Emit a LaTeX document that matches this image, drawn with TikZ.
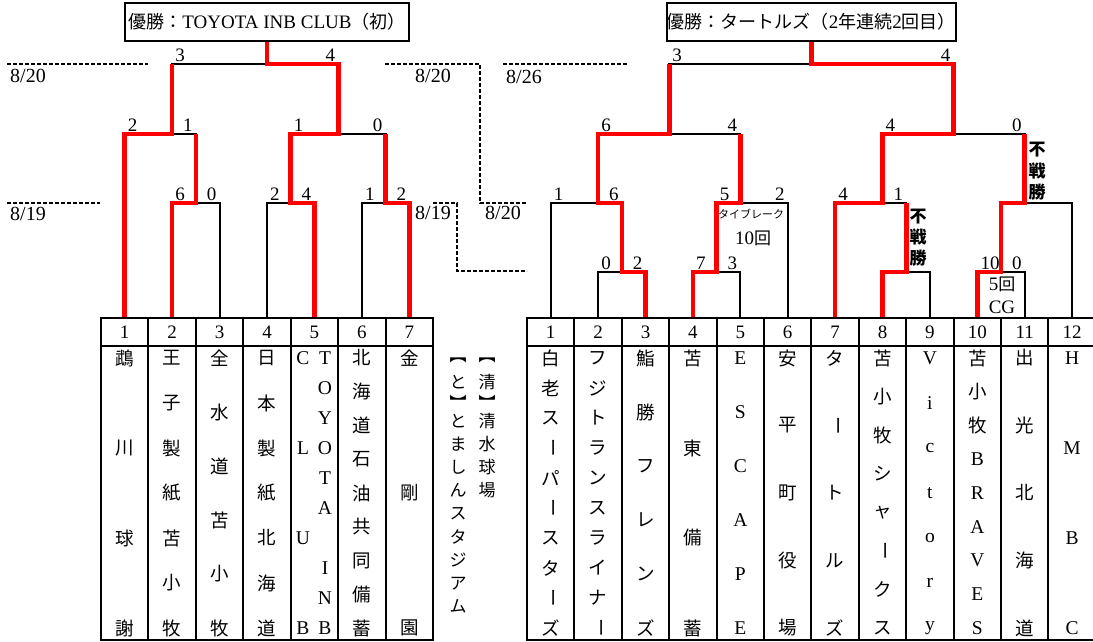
\documentclass[tikz,border=0pt]{standalone}
\usepackage{fontspec}
\setmainfont{Liberation Serif}
\newfontfamily\jp{Noto Sans CJK JP}
\usepackage{xcolor}
\definecolor{winred}{HTML}{FF0000}
\usetikzlibrary{positioning}
\newcommand{\fsz}[1]{\fontsize{#1}{#1}\selectfont}
\newcommand{\vbar}{\rotatebox[origin=c]{-90}{ー}}
% vertical team name: id, style, x, first y, step, characters
\newcommand{\vcol}[6]{%
  \foreach \ch [count=\i from 0] in {#6}
    \node[#2] (#1-\i) at (#3, {#4+\i*#5}) {\ch};}

\begin{document}
\begin{tikzpicture}[x=1pt, y=-1pt,
    bline/.style={line width=2pt, black},
    rline/.style={line width=4.6pt, winred},
    tline/.style={line width=2pt, black},
    dline/.style={line width=1.5pt, dash pattern=on 4pt off 2pt},
    titlebox/.style={draw, line width=2.4pt, minimum width=284pt, minimum height=38pt, inner sep=0pt, font=\fsz{19}},
    scoreL/.style={anchor=south west, inner sep=0pt, xshift=3pt, yshift=2.5pt, font=\fsz{19}},
    scoreR/.style={anchor=south east, inner sep=0pt, xshift=-3pt, yshift=2.5pt, font=\fsz{19}},
    datelbl/.style={inner sep=0pt, font=\fsz{20}},
    numcell/.style={inner sep=0pt, font=\fsz{19}},
    namechar/.style={inner sep=0pt, font=\jp\fsz{18.5}},
    latchar/.style={inner sep=0pt, font=\fsz{19.5}},
    byechar/.style={inner sep=0pt, font=\jp\bfseries\fsz{17}},
    notelbl/.style={inner sep=0pt, align=center}]
  \useasboundingbox (0,0) rectangle (1093,642);

  % --- Titles ---
  \node[titlebox] (titleL) at (267,22) {{\jp\fsz{18}優勝：}TOYOTA INB CLUB{\jp\fsz{18}（初）}};
  \node[titlebox, minimum width=285pt] (titleR) at (811.4,22) {{\jp\fsz{18}優勝：タートルズ（}2{\jp\fsz{18}年連続}2{\jp\fsz{18}回目）}};

  % --- Team positions ---
  \foreach \n in {1,...,7}
    \coordinate (tL\n) at ({101+47.43*(\n-0.5)},318);
  \foreach \n in {1,...,12}
    \coordinate (tR\n) at ({527+47.4*(\n-0.5)},318);

  % --- Dates ---
  \draw[dline] (7,64) -- (148,64);
  \draw[dline] (7,203) -- (100,203);
  \draw[dline] (385,64) -- (480,64) -- (480,203) -- (527,203);
  \draw[dline] (433,203) -- (457,203) -- (457,271) -- (527,271);
  \draw[dline] (503,64) -- (628,64);
  \node[datelbl] (d1) at (28,76) {8/20};
  \node[datelbl] (d2) at (28,214) {8/19};
  \node[datelbl] (d3) at (433,76) {8/20};
  \node[datelbl] (d4) at (433,213) {8/19};
  \node[datelbl] (d5) at (503,213) {8/20};
  \node[datelbl] (d6) at (524,77) {8/26};

  % --- Left bracket ---
  \coordinate (jL23) at (195.9,203);
  \coordinate (jL45) at (290.7,203);
  \coordinate (jL67) at (385.6,203);
  \coordinate (jL1x) at (172.1,134);
  \coordinate (jL4x) at (338.2,134);
  \coordinate (jLf) at (267,64);

  \draw[bline] (tL2) |- (jL23) -| (tL3);
  \draw[bline] (tL4) |- (jL45) -| (tL5);
  \draw[bline] (tL6) |- (jL67) -| (tL7);
  \draw[bline] (tL1) |- (jL1x) -| (jL23);
  \draw[bline] (jL45) |- (jL4x) -| (jL67);
  \draw[bline] (jL1x) |- (jLf) -| (jL4x);
  \draw[bline] (jLf) -- (titleL.south);

  \draw[rline] (tL1) |- (jL1x) -- (jL1x |- jLf);
  \draw[rline] (tL2) |- (jL23) -- (jL23 |- jL1x);
  \draw[rline] (tL5) |- (jL45) |- (jL4x) |- (jLf) -- (titleL.south);
  \draw[rline] (tL7) |- (jL67) -- (jL67 |- jL4x);

  \node[scoreL] (sL1) at (jL1x |- jLf) {3};
  \node[scoreR] (sL2) at (jL4x |- jLf) {4};
  \node[scoreL] (sL3) at (tL1 |- jL1x) {2};
  \node[scoreR] (sL4) at (jL23 |- jL1x) {1};
  \node[scoreL] (sL5) at (jL45 |- jL4x) {1};
  \node[scoreR] (sL6) at (jL67 |- jL4x) {0};
  \node[scoreL] (sL7) at (tL2 |- jL23) {6};
  \node[scoreR] (sL8) at (tL3 |- jL23) {0};
  \node[scoreL] (sL9) at (tL4 |- jL45) {2};
  \node[scoreR] (sL10) at (tL5 |- jL45) {4};
  \node[scoreL] (sL11) at (tL6 |- jL67) {1};
  \node[scoreR] (sL12) at (tL7 |- jL67) {2};

  % --- Right bracket ---
  \coordinate (jR23) at (621.8,272);
  \coordinate (jR45) at (716.6,272);
  \coordinate (jR89) at (906.2,272);
  \coordinate (jR1011) at (1001,272);
  \coordinate (jR1x) at (598.1,203);
  \coordinate (jR6x) at (740.3,203);
  \coordinate (jR7x) at (882.5,203);
  \coordinate (jR12x) at (1024.7,203);
  \coordinate (jRs1) at (669.2,134);
  \coordinate (jRs2) at (953.6,134);
  \coordinate (jRf) at (811.4,64);

  \draw[bline] (tR2) |- (jR23) -| (tR3);
  \draw[bline] (tR4) |- (jR45) -| (tR5);
  \draw[bline] (tR8) |- (jR89) -| (tR9);
  \draw[bline] (tR10) |- (jR1011) -| (tR11);
  \draw[bline] (tR1) |- (jR1x) -| (jR23);
  \draw[bline] (jR45) |- (jR6x) -| (tR6);
  \draw[bline] (tR7) |- (jR7x) -| (jR89);
  \draw[bline] (jR1011) |- (jR12x) -| (tR12);
  \draw[bline] (jR1x) |- (jRs1) -| (jR6x);
  \draw[bline] (jR7x) |- (jRs2) -| (jR12x);
  \draw[bline] (jRs1) |- (jRf) -| (jRs2);
  \draw[bline] (jRf) -- (titleR.south);

  \draw[rline] (tR3) |- (jR23) |- (jR1x) |- (jRs1) -- (jRs1 |- jRf);
  \draw[rline] (tR4) |- (jR45) |- (jR6x) -- (jR6x |- jRs1);
  \draw[rline] (tR7) |- (jR7x) |- (jRs2) |- (jRf) -- (titleR.south);
  \draw[rline] (tR8) |- (jR89) -- (jR89 |- jR7x);
  \draw[rline] (tR10) |- (jR1011) |- (jR12x) -- (jR12x |- jRs2);

  \node[scoreL] (sR1) at (jRs1 |- jRf) {3};
  \node[scoreR] (sR2) at (jRs2 |- jRf) {4};
  \node[scoreL] (sR3) at (jR1x |- jRs1) {6};
  \node[scoreR] (sR4) at (jR6x |- jRs1) {4};
  \node[scoreL] (sR5) at (jR7x |- jRs2) {4};
  \node[scoreR] (sR6) at (jR12x |- jRs2) {0};
  \node[scoreL] (sR7) at (tR1 |- jR1x) {1};
  \node[scoreR] (sR8) at (jR23 |- jR1x) {6};
  \node[scoreL] (sR9) at (jR45 |- jR6x) {5};
  \node[scoreR] (sR10) at (tR6 |- jR6x) {2};
  \node[scoreL] (sR11) at (tR7 |- jR7x) {4};
  \node[scoreR] (sR12) at (jR89 |- jR7x) {1};
  \node[scoreL] (sR13) at (tR2 |- jR23) {0};
  \node[scoreR] (sR14) at (tR3 |- jR23) {2};
  \node[scoreL] (sR15) at (tR4 |- jR45) {7};
  \node[scoreR] (sR16) at (tR5 |- jR45) {3};
  \node[scoreL] (sR17) at (tR10 |- jR1011) {10};
  \node[scoreR] (sR18) at (tR11 |- jR1011) {0};

  % notes
  \node[notelbl, font=\jp\fsz{11}] (tb) at (751,214) {タイブレーク};
  \node[notelbl, font=\fsz{19}] (tb10) at (753,238) {10{\jp\fsz{17}回}};
  \node[notelbl, font=\fsz{19}] (cg5) at (1002,284) {5{\jp\fsz{17}回}};
  \node[notelbl, font=\fsz{19}] (cg) at (1002,307) {CG};
  \vcol{bye1}{byechar}{918}{217}{20.5}{不,戦,勝}
  \vcol{bye2}{byechar}{1037}{150}{21}{不,戦,勝}

  % --- Tables ---
  \draw[tline] (101,318) rectangle (433,640);
  \draw[tline] (101,346) -- (433,346);
  \foreach \n in {1,...,6}
    \draw[tline] ({101+47.43*\n},318) -- ({101+47.43*\n},640);
  \foreach \n in {1,...,7}
    \node[numcell] (nL\n) at (tL\n |- 0,332) {\n};

  \draw[tline] (527,318) rectangle (1096,640);
  \draw[tline] (527,346) -- (1096,346);
  \foreach \n in {1,...,11}
    \draw[tline] ({527+47.4*\n},318) -- ({527+47.4*\n},640);
  \foreach \n in {1,...,12}
    \node[numcell] (nR\n) at (tR\n |- 0,332) {\n};

  % --- Team names (left) ---
  \vcol{L1}{namechar}{124.7}{358}{90}{鵡,川,球,謝}
  \vcol{L2}{namechar}{172.1}{358}{45}{王,子,製,紙,苫,小,牧}
  \vcol{L3}{namechar}{219.6}{358}{54}{全,水,道,苫,小,牧}
  \vcol{L4}{namechar}{267.0}{358}{45}{日,本,製,紙,北,海,道}
  \vcol{L5a}{latchar}{325}{358}{30}{T,O,Y,O,T,A}
  \vcol{L5b}{latchar}{325}{568}{30}{I,N,B}
  \vcol{L5c}{latchar}{303}{358}{90}{C,L,U,B}
  \vcol{L6}{namechar}{361.9}{358}{33.75}{北,海,道,石,油,共,同,備,蓄}
  \vcol{L7}{namechar}{409.3}{358}{135}{金,剛,園}

  % --- Team names (right) ---
  \vcol{R1}{namechar}{550.7}{358}{30}{白,老,ス,\vbar,パ,\vbar,ス,タ,\vbar,ズ}
  \vcol{R2}{namechar}{598.1}{358}{30}{フ,ジ,ト,ラ,ン,ス,ラ,イ,ナ,\vbar}
  \vcol{R3}{namechar}{645.5}{358}{54}{鮨,勝,フ,レ,ン,ズ}
  \vcol{R4}{namechar}{692.9}{358}{90}{苫,東,備,蓄}
  \vcol{R5}{latchar}{740.3}{358}{54}{E,S,C,A,P,E}
  \vcol{R6}{namechar}{787.7}{358}{67.5}{安,平,町,役,場}
  \vcol{R7}{namechar}{835.1}{358}{67.5}{タ,\vbar,ト,ル,ズ}
  \vcol{R8}{namechar}{882.5}{358}{38.57}{苫,小,牧,シ,ャ,\vbar,ク,ス}
  \vcol{R9}{latchar}{929.9}{358}{45}{V,i,c,t,o,r,y}
  \vcol{R10a}{namechar}{977.3}{358}{33.75}{苫,小,牧}
  \vcol{R10b}{latchar}{977.3}{459.25}{33.75}{B,R,A,V,E,S}
  \vcol{R11}{namechar}{1024.7}{358}{67.5}{出,光,北,海,道}
  \vcol{R12}{latchar}{1072.1}{358}{90}{H,M,B,C}

  % --- Grounds (vertical) ---
  \node[namechar, font=\jp\fsz{17}] (gR0) at (487,360) {︻};
  \node[namechar, font=\jp\fsz{17}] (gR1) at (487,382) {清};
  \node[namechar, font=\jp\fsz{17}] (gR2) at (487,402) {︼};
  \vcol{gR}{namechar, font=\jp\fsz{17}}{487}{421}{23.2}{清,水,球,場}
  \node[namechar, font=\jp\fsz{17}] (gL0) at (458,360) {︻};
  \node[namechar, font=\jp\fsz{17}] (gL1) at (458,382) {と};
  \node[namechar, font=\jp\fsz{17}] (gL2) at (458,402) {︼};
  \vcol{gL}{namechar, font=\jp\fsz{17}}{458}{421}{23.2}{と,ま,し,ん,ス,タ,ジ,ア,ム}
\end{tikzpicture}
\end{document}
